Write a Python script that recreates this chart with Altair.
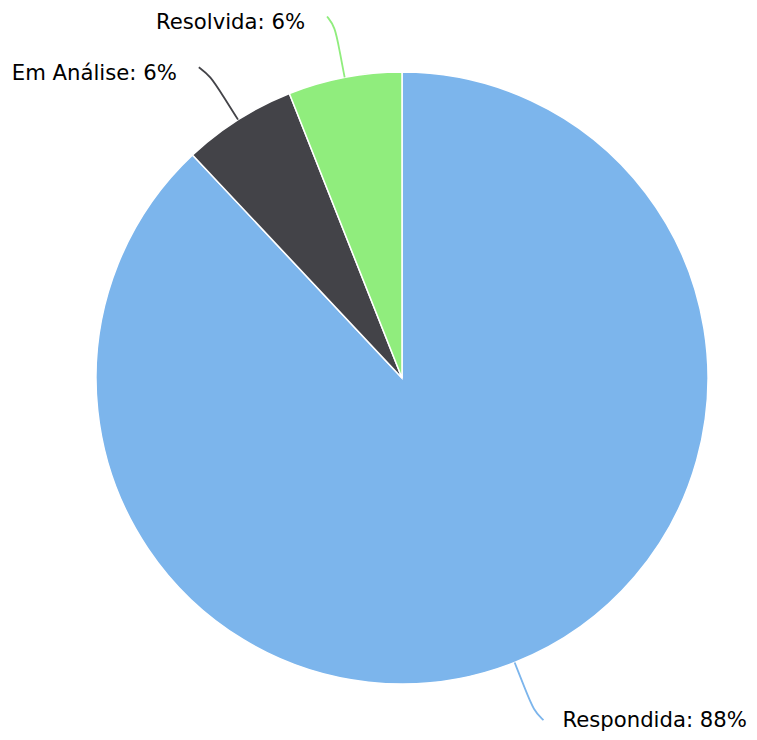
import math
import altair as alt
import pandas as pd

# ---- data ----
categories = ["Respondida", "Em Análise", "Resolvida"]
values = [88, 6, 6]
colors = ["#7cb5ec", "#434348", "#90ed7d"]

# ---- layout ----
W, H = 741, 724
CX, CY = 394, 370
R = 306
FONT = "DejaVu Sans"
FS = 21.2

total = sum(values)
df = pd.DataFrame({"cat": categories, "value": values, "idx": list(range(len(values)))})
df["label"] = [f"{c}: {round(v / total * 100)}%" for c, v in zip(categories, values)]

# geometry of connectors and labels, derived from the values
line_rows, label_rows = [], []
cum = 0.0
for c, v, lab in zip(categories, values, df["label"]):
    mid = (cum + v / 2) / total * 2 * math.pi
    cum += v
    s, co = math.sin(mid), -math.cos(mid)
    side = 1 if s >= 0 else -1

    def pt(rr):
        return CX + rr * s, CY + rr * co

    ex, ey = pt(R + 62)
    ex += 6 * side
    pts = [pt(R), pt(R + 28), pt(R + 52), (ex, ey)]
    for k, (px, py) in enumerate(pts):
        line_rows.append({"cat": c, "seq": k, "px": px, "py": py})
    label_rows.append({"cat": c, "label": lab,
                       "lx": ex + (19 if side > 0 else -22),
                       "ly": min(ey + 12.5, H - 5.5),
                       "side": "L" if side > 0 else "R"})

lines = pd.DataFrame(line_rows)
labels = pd.DataFrame(label_rows)

color_scale = alt.Scale(domain=categories, range=colors)
xs = alt.Scale(domain=[0, W], range=[0, W], nice=False, zero=False)
ys = alt.Scale(domain=[0, H], range=[0, H], nice=False, zero=False)

pie = alt.Chart(df).mark_arc(outerRadius=R, stroke="white", strokeWidth=1.5).encode(
    theta=alt.Theta("value:Q", stack=True),
    order=alt.Order("idx:Q"),
    color=alt.Color("cat:N", scale=color_scale, legend=None),
    x=alt.value(CX),
    y=alt.value(CY),
)

conn = alt.Chart(lines).mark_line(interpolate="basis", strokeWidth=1.8).encode(
    x=alt.X("px:Q", scale=xs, axis=None),
    y=alt.Y("py:Q", scale=ys, axis=None),
    detail="cat:N",
    order="seq:Q",
    color=alt.Color("cat:N", scale=color_scale, legend=None),
)

txt_left = alt.Chart(labels).transform_filter(alt.datum.side == "L").mark_text(
    align="left", baseline="alphabetic", font=FONT, fontSize=FS, color="#000000"
).encode(
    x=alt.X("lx:Q", scale=xs, axis=None),
    y=alt.Y("ly:Q", scale=ys, axis=None),
    text="label:N",
)
txt_right = alt.Chart(labels).transform_filter(alt.datum.side == "R").mark_text(
    align="right", baseline="alphabetic", font=FONT, fontSize=FS, color="#000000"
).encode(
    x=alt.X("lx:Q", scale=xs, axis=None),
    y=alt.Y("ly:Q", scale=ys, axis=None),
    text="label:N",
)

chart = alt.layer(pie, conn, txt_left, txt_right).properties(
    width=W, height=H, padding=0, autosize=alt.AutoSizeParams(type="none"),
    background="white",
).configure_view(stroke=None)

chart.save("out.html", embed_options={"renderer": "svg", "actions": False})
